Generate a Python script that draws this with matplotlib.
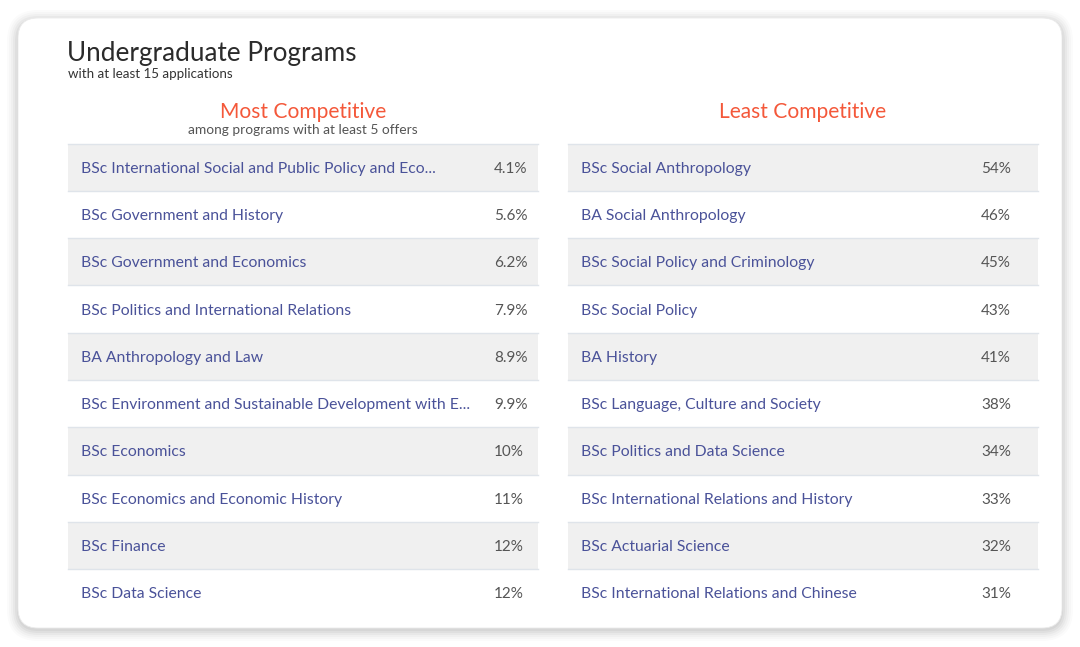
import matplotlib.pyplot as plt
from matplotlib.patches import FancyBboxPatch, Rectangle

plt.rcParams['font.family'] = ['Lato', 'DejaVu Sans']

# data
most_names = [
    "BSc International Social and Public Policy and Eco...",
    "BSc Government and History",
    "BSc Government and Economics",
    "BSc Politics and International Relations",
    "BA Anthropology and Law",
    "BSc Environment and Sustainable Development with E...",
    "BSc Economics",
    "BSc Economics and Economic History",
    "BSc Finance",
    "BSc Data Science",
]
most_values = ["4.1%", "5.6%", "6.2%", "7.9%", "8.9%", "9.9%", "10%", "11%", "12%", "12%"]

least_names = [
    "BSc Social Anthropology",
    "BA Social Anthropology",
    "BSc Social Policy and Criminology",
    "BSc Social Policy",
    "BA History",
    "BSc Language, Culture and Society",
    "BSc Politics and Data Science",
    "BSc International Relations and History",
    "BSc Actuarial Science",
    "BSc International Relations and Chinese",
]
least_values = ["54%", "46%", "45%", "43%", "41%", "38%", "34%", "33%", "32%", "31%"]

W, H = 1080, 647
fig = plt.figure(figsize=(W / 100, H / 100), dpi=100)
ax = fig.add_axes([0, 0, 1, 1])
ax.set_xlim(0, W)
ax.set_ylim(H, 0)
ax.axis('off')

# card with soft shadow
for i, a in enumerate([0.015, 0.02, 0.025, 0.03, 0.035, 0.04]):
    g = 11 - i * 2
    ax.add_patch(FancyBboxPatch((18 - g, 21 - g), 1044 + 2 * g, 609 + 2 * g,
                                boxstyle="round,pad=0,rounding_size=%d" % (20 + g),
                                fc='black', ec='none', alpha=a, zorder=1))
ax.add_patch(FancyBboxPatch((18, 18), 1044, 610, boxstyle="round,pad=0,rounding_size=20",
                            fc='white', ec='#ebebeb', lw=0.6, zorder=2))

ax.text(67, 53, "Undergraduate Programs", fontsize=18.8, color='#2b2b2b',
        va='center', ha='left', zorder=5)
ax.text(68, 74, "with at least 15 applications", fontsize=9.6, color='#333333',
        va='center', ha='left', zorder=5)

red = '#f4583a'
name_col = '#4a5299'
val_col = '#555555'
row_h = 47.3
top = 143.5


def draw_table(x0, width, names, values, val_x, title, sub):
    cx = x0 + width / 2
    ax.text(cx, 112, title, fontsize=15.1, color=red, ha='center', va='center', zorder=5)
    if sub:
        ax.text(cx, 129.5, sub, fontsize=9.9, color='#555555', ha='center', va='center', zorder=5)
    for i, (n, v) in enumerate(zip(names, values)):
        y = top + i * row_h
        if i % 2 == 0:
            ax.add_patch(Rectangle((x0, y), width, row_h, fc='#f0f0f0', ec='none', zorder=3))
        ax.plot([x0, x0 + width], [y, y], color='#dfe4ea', lw=1, zorder=4)
        ax.text(x0 + 13, y + row_h / 2 + 1.5, n, fontsize=11.3, color=name_col,
                ha='left', va='center', zorder=5)
        ax.text(val_x, y + row_h / 2 + 1.5, v, fontsize=11, color=val_col,
                ha='left', va='center', zorder=5)


draw_table(68, 470, most_names, most_values, 494, "Most Competitive",
           "among programs with at least 5 offers")
draw_table(568, 470, least_names, least_values, 981, "Least Competitive", None)

fig.savefig("out.png", dpi=100, facecolor='white')
